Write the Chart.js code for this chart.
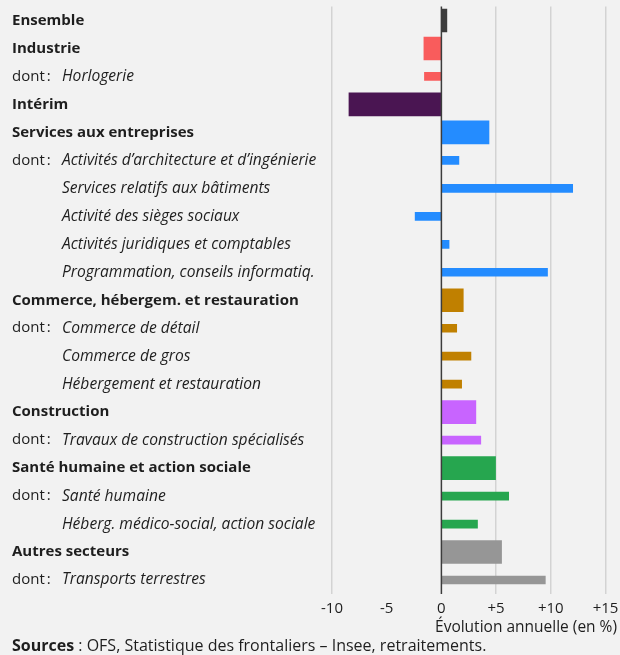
<!DOCTYPE html>
<html>
<head>
<meta charset="utf-8">
<script src="https://cdn.jsdelivr.net/npm/chart.js@4.4.1/dist/chart.umd.min.js"></script>
<style>
  html, body { margin: 0; padding: 0; background: #f2f2f2; }
  #wrap { width: 620px; height: 655px; position: relative; }
</style>
</head>
<body>
<div id="wrap"><canvas id="c"></canvas></div>
<script>
// ---- Data ----
const categories = [
  'Ensemble',
  'Industrie',
  'Horlogerie',
  'Intérim',
  'Services aux entreprises',
  'Activités d’architecture et d’ingénierie',
  'Services relatifs aux bâtiments',
  'Activité des sièges sociaux',
  'Activités juridiques et comptables',
  'Programmation, conseils informatiq.',
  'Commerce, hébergem. et restauration',
  'Commerce de détail',
  'Commerce de gros',
  'Hébergement et restauration',
  'Construction',
  'Travaux de construction spécialisés',
  'Santé humaine et action sociale',
  'Santé humaine',
  'Héberg. médico-social, action sociale',
  'Autres secteurs',
  'Transports terrestres'
];
// 0 = main sector, 1 = first sub-sector (with "dont :"), 2 = further sub-sector
const levels = [0, 0, 1, 0, 0, 1, 2, 2, 2, 2, 0, 1, 2, 2, 0, 1, 0, 1, 2, 0, 1];
// annual change in %
const values = [0.5, -1.6, -1.55, -8.45, 4.35, 1.6, 12.0, -2.4, 0.7, 9.7, 2.0, 1.4, 2.7, 1.85, 3.15, 3.6, 4.95, 6.15, 3.3, 5.5, 9.5];
const groups = ['ens', 'ind', 'ind', 'int', 'srv', 'srv', 'srv', 'srv', 'srv', 'srv', 'com', 'com', 'com', 'com', 'con', 'con', 'san', 'san', 'san', 'aut', 'aut'];
const groupColors = { ens: '#3d3d3d', ind: '#f95c5c', int: '#4a1552', srv: '#248cff', com: '#c08000', con: '#c864ff', san: '#26a64f', aut: '#969696' };
const xTicks = [-10, -5, 0, 5, 10, 15];
const axisTitle = 'Évolution annuelle (en %)';
const sourceLabel = 'Sources';
const sourceText = ' : OFS, Statistique des frontaliers – Insee, retraitements.';

const mainData = values.map((v, i) => levels[i] === 0 ? v : null);
const subData = values.map((v, i) => levels[i] !== 0 ? v : null);
const barColors = groups.map(g => groupColors[g]);

const FONT = '"Open Sans", "Noto Sans", sans-serif';
const TXT = '#1e1e1e';

const labelsPlugin = {
  id: 'labels',
  afterDatasetsDraw(chart) {
    const { ctx, chartArea } = chart;
    const xs = chart.scales.x;
    const x0 = xs.getPixelForValue(0);
    ctx.save();
    ctx.strokeStyle = '#3c3c3c';
    ctx.lineWidth = 1.5;
    ctx.beginPath();
    ctx.moveTo(x0, chartArea.top);
    ctx.lineTo(x0, chartArea.bottom);
    ctx.stroke();
    ctx.restore();
  },
  afterDraw(chart) {
    const { ctx } = chart;
    const ys = chart.scales.y;
    ctx.save();
    ctx.fillStyle = TXT;
    ctx.textBaseline = 'middle';
    ctx.textAlign = 'left';
    categories.forEach((c, i) => {
      const y = ys.getPixelForValue(i);
      if (levels[i] === 0) {
        ctx.font = 'bold 15px ' + FONT;
        ctx.fillText(c, 12, y);
      } else {
        if (levels[i] === 1) {
          ctx.font = '15px ' + FONT;
          ctx.fillText('dont\u202F:', 12, y);
        }
        ctx.font = 'italic 15.6px ' + FONT;
        ctx.fillText(c, 62, y);
      }
    });
    // axis title
    ctx.font = '15.5px ' + FONT;
    ctx.textAlign = 'right';
    ctx.fillText(axisTitle, 617, 628);
    // sources
    ctx.textAlign = 'left';
    ctx.font = 'bold 16px ' + FONT;
    ctx.fillText(sourceLabel, 12, 646);
    const w = ctx.measureText(sourceLabel).width;
    ctx.font = '16px ' + FONT;
    ctx.fillText(sourceText, 12 + w, 646);
    ctx.restore();
  }
};

new Chart(document.getElementById('c'), {
  type: 'bar',
  data: {
    labels: categories,
    datasets: [
      { data: mainData, backgroundColor: barColors, barThickness: 23, grouped: false },
      { data: subData, backgroundColor: barColors, barThickness: 8, grouped: false }
    ]
  },
  options: {
    indexAxis: 'y',
    responsive: true,
    maintainAspectRatio: false,
    animation: false,
    events: [],
    layout: { padding: { left: 332, top: 6.5, right: 14.5, bottom: 31 } },
    plugins: { legend: { display: false }, tooltip: { enabled: false } },
    scales: {
      x: {
        min: xTicks[0],
        max: xTicks[xTicks.length - 1],
        afterBuildTicks(scale) { scale.ticks = xTicks.map(v => ({ value: v })); },
        afterFit(scale) { scale.paddingRight = 0; scale.paddingLeft = 0; },
        border: { display: false },
        grid: {
          drawTicks: false,
          lineWidth: 1.5,
          color: ctx => (ctx.tick && (ctx.tick.value === -5 || ctx.tick.value === 0)) ? 'rgba(0,0,0,0)' : '#d3d3d3'
        },
        ticks: {
          padding: 6,
          color: TXT,
          font: { family: FONT, size: 15 },
          callback: v => v > 0 ? '+' + v : String(v)
        }
      },
      y: {
        display: false,
        grid: { display: false }
      }
    }
  },
  plugins: [labelsPlugin]
});
</script>
</body>
</html>
